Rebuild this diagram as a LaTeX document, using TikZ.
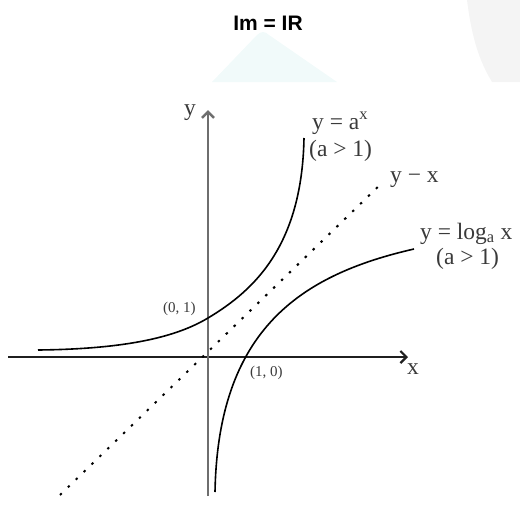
\documentclass[tikz,border=0pt]{standalone}
\usepackage{fontspec}
\setmainfont{Liberation Serif}
\newfontfamily\titlefont{Liberation Sans}
\usetikzlibrary{arrows.meta}
\definecolor{axisgray}{HTML}{6E6E6E}
\definecolor{labelgray}{HTML}{3A3A3A}
\definecolor{wmcyan}{HTML}{F1FAFA}
\definecolor{wmgray}{HTML}{F4F4F4}
\tikzset{
  axis/.style={-{Straight Barb[length=6pt,width=12pt]}},
  curve/.style={line width=1.6pt},
  lbl/.style={text=labelgray, inner sep=0pt, anchor=base west,
    font=\fontsize{23.5}{26}\selectfont},
  pointlbl/.style={lbl, font=\fontsize{15}{17}\selectfont}
}

\begin{document}
\begin{tikzpicture}[x=1pt, y=-1pt]
\useasboundingbox (0,0) rectangle (520,507);
% faint watermark
\fill[wmcyan] (212,82) -- (257,35) .. controls (261,31) and (265,31) .. (269,35) -- (337,82) -- cycle;
\fill[wmgray] (467,0) .. controls (472,40) and (480,62) .. (492,82) -- (520,82) -- (520,0) -- cycle;
\node[font=\titlefont\fontsize{21}{24}\selectfont\bfseries] (title) at (268,23) {Im = IR};
% axes
\coordinate (O) at (208,357);
\coordinate (xl) at (8,357);
\coordinate (xr) at (408,357);
\coordinate (yb) at (208,496);
\coordinate (yt) at (208,110);
\draw[axis, line width=2.2pt, draw=black!88] (xl) -- (xr);
\draw[axis, line width=2.6pt, draw=axisgray] (yb) -- (yt);
\node[lbl] (ylab) at (184,115) {y};
\node[lbl] (xlab) at (407,374) {x};
% y = x
\coordinate (d1) at (60,495);
\coordinate (d2) at (383,182);
\draw[line width=2pt, dash pattern=on 2.4pt off 8.6pt] (d1) -- (d2);
\node[lbl] (lblline) at (390,182) {y − x};
% y = a^x
\coordinate (e0) at (38,350);
\coordinate (e1) at (208,318);
\coordinate (e2) at (304,138);
\draw[curve] (e0) .. controls (130,349) and (178,336) .. (e1)
  .. controls (255,290) and (302,245) .. (e2);
\node[lbl] (lblexp) at (312,129) {y = a\textsuperscript{x}};
\node[lbl] (lblexpcond) at (309,156) {(a > 1)};
% y = log_a x
\coordinate (l0) at (215,492);
\coordinate (l1) at (414,249);
\draw[curve] (l0) .. controls (218,330) and (300,275) .. (l1);
\node[lbl] (lbllog) at (420,239) {y = log\textsubscript{a} x};
\node[lbl] (lbllogcond) at (436,264) {(a > 1)};
% points
\node[pointlbl] (pt01) at (163,312) {(0, 1)};
\node[pointlbl] (pt10) at (250,376) {(1, 0)};
\end{tikzpicture}
\end{document}
